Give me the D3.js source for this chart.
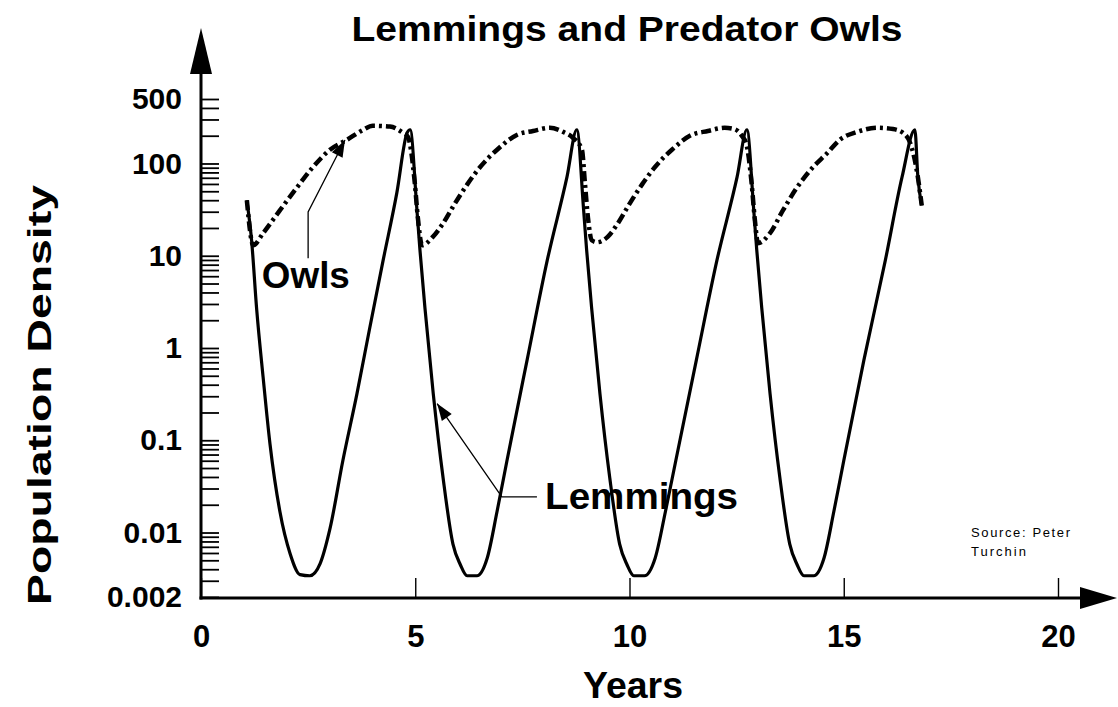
<!DOCTYPE html>
<html>
<head>
<meta charset="utf-8">
<script src="https://cdn.jsdelivr.net/npm/d3@7"></script>
<style>
  html, body { margin: 0; padding: 0; background: #fff; }
  svg { display: block; }
  text { font-family: "Liberation Sans", Arial, sans-serif; font-weight: bold; fill: #000; }
</style>
</head>
<body>
<svg id="chart" width="1118" height="707"></svg>
<script>
// ---------- data ----------
const lemmingYears = [1.07, 1.18, 1.30, 1.45, 1.61, 1.84, 2.08, 2.31, 2.54, 2.78, 3.01, 3.31, 3.64, 3.94, 4.25, 4.57, 4.81, 4.88,
  5.04, 5.11, 5.23, 5.42, 5.65, 5.88, 6.05, 6.21, 6.44, 6.68, 6.91, 7.14, 7.61, 8.08, 8.54, 8.77,
  8.93, 9.00, 9.12, 9.31, 9.54, 9.77, 9.94, 10.10, 10.35, 10.60, 10.84, 11.08, 11.56, 12.04, 12.51, 12.74,
  12.90, 12.97, 13.09, 13.28, 13.51, 13.74, 13.91, 14.07, 14.30, 14.54, 14.77, 15.00, 15.47, 15.97, 16.36, 16.66,
  16.73, 16.82];
const lemmingValues = [40, 14.8, 2.6, 0.48, 0.091, 0.017, 0.0059, 0.0035, 0.0034, 0.0046, 0.011, 0.06, 0.32, 1.67, 8.9, 48, 215, 232,
  31, 11.5, 2.6, 0.32, 0.039, 0.0075, 0.0045, 0.0034, 0.0034, 0.0053, 0.017, 0.06, 0.74, 8.9, 71, 232,
  31, 11.5, 2.6, 0.32, 0.039, 0.0075, 0.0045, 0.0034, 0.0034, 0.0053, 0.017, 0.06, 0.74, 8.9, 71, 232,
  31, 11.5, 2.6, 0.32, 0.039, 0.0075, 0.0045, 0.0034, 0.0034, 0.0053, 0.017, 0.06, 0.74, 8.9, 71, 232,
  71, 35];

const owlYears = [1.07, 1.22, 1.45, 1.84, 2.24, 2.61, 3.01, 3.41, 3.78, 4.01, 4.41, 4.71, 4.83, 4.99, 5.06, 5.16,
  5.41, 5.65, 5.88, 6.21, 6.51, 6.91, 7.37, 7.75, 8.14, 8.45, 8.68, 8.89, 8.96, 9.03, 9.12, 9.24,
  9.49, 9.73, 9.96, 10.29, 10.59, 10.99, 11.45, 11.83, 12.22, 12.45, 12.62, 12.73, 12.85, 12.92, 13.00,
  13.28, 13.58, 13.91, 14.28, 14.61, 14.91, 15.31, 15.78, 16.15, 16.38, 16.55, 16.73, 16.82];
const owlValues = [40, 13, 17.6, 31, 55, 91, 141, 181, 231, 256, 251, 215, 194, 61, 26, 13,
  16, 22.5, 34, 59, 91, 141, 204, 225, 244, 220, 190, 141, 61, 26, 14.7, 14,
  16, 22.5, 34, 59, 91, 141, 204, 225, 244, 236, 200, 160, 61, 26, 13.7,
  17.6, 31, 55, 91, 129, 181, 220, 244, 236, 215, 167, 71, 35];

const xTickValues = [0, 5, 10, 15, 20];
const yTickLabels = ["0.002", "0.01", "0.1", "1", "10", "100", "500"];
const yTickLabelValues = [0.002, 0.01, 0.1, 1, 10, 100, 500];

const titleText = "Lemmings and Predator Owls";
const xAxisTitle = "Years";
const yAxisTitle = "Population Density";
const sourceLines = ["Source: Peter", "Turchin"];

// annotation anchors in data units
const owlLabel = { text: "Owls", year: 1.42, value: 4.5 };
const owlPointer = [[2.5, 9.4], [2.5, 29.8], [3.36, 180]];
const lemLabel = { text: "Lemmings", year: 8.03, value: 0.018 };
const lemPointer = [[7.84, 0.0243], [7.02, 0.0243], [5.51, 0.25]];

// ---------- chart ----------
const svg = d3.select("#chart");
const x = d3.scaleLinear().domain([0, 20]).range([201, 1058]);
const y = d3.scaleLog().domain([0.002, 500]).range([597, 99]);

// minor log ticks
const yTicks = [];
for (let k = -3; k <= 2; k++) {
  for (let m = 1; m <= 9; m++) {
    const v = +(m * Math.pow(10, k)).toPrecision(6);
    if (v >= 0.002 && v <= 500) yTicks.push(v);
  }
}
const labelFor = new Map(yTickLabelValues.map((v, i) => [v, yTickLabels[i]]));

const yAxis = d3.axisLeft(y)
  .tickValues(yTicks)
  .tickSize(-18)
  .tickPadding(19)
  .tickFormat(d => labelFor.get(d) || "");
const gy = svg.append("g").attr("transform", `translate(${x(0)},0)`).call(yAxis);
gy.select(".domain").remove();
gy.selectAll(".tick line").attr("stroke", "#000").attr("stroke-width", 1.8);
gy.selectAll(".tick text").style("font-size", "30px").attr("fill", "#000");

const xAxis = d3.axisBottom(x)
  .tickValues(xTickValues)
  .tickSize(-20)
  .tickPadding(27)
  .tickFormat(d3.format("d"));
const gx = svg.append("g").attr("transform", `translate(0,${y(0.002) + 1})`).call(xAxis);
gx.select(".domain").remove();
gx.selectAll(".tick line").attr("stroke", "#000").attr("stroke-width", 1.4);
gx.selectAll(".tick text").style("font-size", "31px").attr("fill", "#000");

// axis lines with arrows
const ax0 = x(0), ay0 = y(0.002) + 1;
svg.append("line").attr("x1", ax0).attr("y1", ay0 + 1.5).attr("x2", ax0).attr("y2", 72)
  .attr("stroke", "#000").attr("stroke-width", 3);
svg.append("path").attr("d", `M${ax0},28 L${ax0 + 11},74 L${ax0 - 11},74 Z`).attr("fill", "#000");
svg.append("line").attr("x1", ax0 - 1.5).attr("y1", ay0).attr("x2", 1082).attr("y2", ay0)
  .attr("stroke", "#000").attr("stroke-width", 3);
svg.append("path").attr("d", `M1117,${ay0} L1080,${ay0 - 11} L1080,${ay0 + 11} Z`).attr("fill", "#000");

// lines
const lemData = lemmingYears.map((t, i) => [t, lemmingValues[i]]);
const owlData = owlYears.map((t, i) => [t, owlValues[i]]);
const line = d3.line().x(d => x(d[0])).y(d => y(d[1])).curve(d3.curveMonotoneX);

svg.append("path").datum(owlData).attr("d", line)
  .attr("fill", "none").attr("stroke", "#000").attr("stroke-width", 4.5)
  .attr("stroke-dasharray", "10,4,3,4").attr("stroke-linejoin", "round");
svg.append("path").datum(lemData).attr("d", line)
  .attr("fill", "none").attr("stroke", "#000").attr("stroke-width", 3.2).attr("stroke-linejoin", "round");

// annotations
function pointer(pts) {
  const p = pts.map(d => [x(d[0]), y(d[1])]);
  svg.append("path").attr("d", d3.line()(p)).attr("fill", "none").attr("stroke", "#000").attr("stroke-width", 1.3);
  const [a, b] = [p[p.length - 2], p[p.length - 1]];
  const ang = Math.atan2(b[1] - a[1], b[0] - a[0]);
  const L = 17, W = 6;
  const bx = b[0] - L * Math.cos(ang), by = b[1] - L * Math.sin(ang);
  const nx = -Math.sin(ang) * W, ny = Math.cos(ang) * W;
  svg.append("path").attr("d", `M${b[0]},${b[1]} L${bx + nx},${by + ny} L${bx - nx},${by - ny} Z`).attr("fill", "#000");
}
pointer(owlPointer);
pointer(lemPointer);

svg.append("text").attr("x", x(owlLabel.year)).attr("y", y(owlLabel.value))
  .style("font-size", "36px").attr("textLength", 88).attr("lengthAdjust", "spacingAndGlyphs").text(owlLabel.text);
svg.append("text").attr("x", x(lemLabel.year)).attr("y", y(lemLabel.value))
  .style("font-size", "36px").attr("textLength", 193).attr("lengthAdjust", "spacingAndGlyphs").text(lemLabel.text);

// titles
svg.append("text").attr("x", 627).attr("y", 41).attr("text-anchor", "middle")
  .style("font-size", "35px").attr("textLength", 551).attr("lengthAdjust", "spacingAndGlyphs").text(titleText);
svg.append("text").attr("x", 633).attr("y", 698).attr("text-anchor", "middle")
  .style("font-size", "36px").attr("textLength", 100).attr("lengthAdjust", "spacingAndGlyphs").text(xAxisTitle);
svg.append("text").attr("transform", "translate(51,395) rotate(-90)").attr("text-anchor", "middle")
  .style("font-size", "34px").attr("textLength", 420).attr("lengthAdjust", "spacingAndGlyphs").text(yAxisTitle);

// source note
svg.selectAll("text.src").data(sourceLines).enter().append("text").attr("class", "src")
  .attr("x", 971).attr("y", (d, i) => 537 + i * 19)
  .style("font-size", "13px").style("font-weight", "normal")
  .attr("textLength", (d, i) => i === 0 ? 99 : 55).attr("lengthAdjust", "spacing")
  .text(d => d);
</script>
</body>
</html>
